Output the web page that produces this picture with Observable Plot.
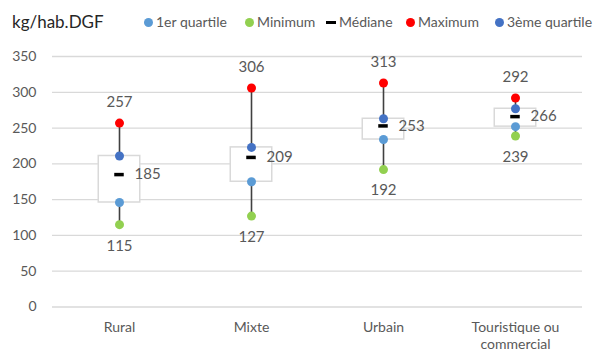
<!DOCTYPE html>
<html><head><meta charset="utf-8">
<script src="https://cdn.jsdelivr.net/npm/d3@7"></script>
<script src="https://cdn.jsdelivr.net/npm/@observablehq/plot@0.6"></script>
<style>
body{margin:0;background:#fff;font-family:Lato,"Open Sans",sans-serif;}
#wrap{position:relative;width:595px;height:352px;overflow:hidden;}
#legend{position:relative;height:40px;width:595px;}
#legend span{position:absolute;white-space:nowrap;font-size:14px;color:#595959;top:14px;line-height:16px;}
#legend .dot{width:9px;height:9px;border-radius:50%;top:18px;}
#legend .dash{width:10px;height:3px;background:#000;top:21px;}
#legend .title{font-size:17px;color:#262626;left:12px;top:12px;line-height:20px;}
</style></head>
<body><div id="wrap"><div id="legend"></div><div id="chart"></div></div>
<script>
const categories = ["Rural", "Mixte", "Urbain", "Touristique ou\ncommercial"];
const minimum = [115, 127, 192, 239];
const q1 = [146, 175, 234, 252];
const median = [185, 209, 253, 266];
const q3 = [211, 223, 263, 277];
const maximum = [257, 306, 313, 292];
const yTicks = [0, 50, 100, 150, 200, 250, 300, 350];
const unitLabel = "kg/hab.DGF";
const legendItems = [
  {label: "1er quartile", color: "#5B9BD5", type: "dot"},
  {label: "Minimum", color: "#92D050", type: "dot"},
  {label: "Médiane", color: "#000000", type: "dash"},
  {label: "Maximum", color: "#FF0000", type: "dot"},
  {label: "3ème quartile", color: "#4472C4", type: "dot"}
];

const rows = categories.map((c, i) => ({cat: c, min: minimum[i], q1: q1[i], med: median[i], q3: q3[i], max: maximum[i]}));

// legend
const lg = document.getElementById("legend");
const t = document.createElement("span"); t.className = "title"; t.textContent = unitLabel; lg.appendChild(t);
const markerX = [144, 245, 326, 406, 495];
legendItems.forEach((it, i) => {
  const m = document.createElement("span");
  m.className = it.type;
  m.style.left = markerX[i] + "px";
  if (it.type === "dot") m.style.background = it.color;
  lg.appendChild(m);
  const s = document.createElement("span");
  s.textContent = it.label;
  s.style.left = (markerX[i] + (it.type === "dot" ? 12 : 13)) + "px";
  lg.appendChild(s);
});

const W = 595, H = 312;
const band = (582 - 52) / categories.length;
const boxW = 42, dashW = 10;
const txt = {fill: "#595959", fontSize: 15};

const chart = Plot.plot({
  width: W, height: H,
  marginTop: 16, marginBottom: 45.5, marginLeft: 52, marginRight: 13,
  style: {fontFamily: "Lato, 'Open Sans', sans-serif", background: "#fff"},
  x: {domain: categories, padding: 0, axis: null},
  y: {domain: [0, 350], axis: null},
  marks: [
    Plot.gridY(yTicks, {stroke: "#d9d9d9", strokeOpacity: 1, strokeWidth: 1.3}),
    Plot.axisY(yTicks, {tickSize: 0, tickPadding: 16, fontSize: 14, fill: "#595959", label: null}),
    Plot.axisX({tickSize: 0, tickPadding: 14, fontSize: 14, fill: "#595959", label: null, lineHeight: 1.15}),
    Plot.ruleX(rows, {x: "cat", y1: "min", y2: "max", stroke: "#404040", strokeWidth: 1.6}),
    Plot.barY(rows, {x: "cat", y1: "q1", y2: "q3", fill: "#fff", stroke: "#d9d9d9", strokeWidth: 1.5,
      insetLeft: (band - boxW) / 2, insetRight: (band - boxW) / 2}),
    Plot.tickY(rows, {x: "cat", y: "med", stroke: "#000", strokeWidth: 3.5,
      insetLeft: (band - dashW) / 2, insetRight: (band - dashW) / 2}),
    Plot.dot(rows, {x: "cat", y: "min", r: 4.5, fill: "#92D050"}),
    Plot.dot(rows, {x: "cat", y: "q1", r: 4.5, fill: "#5B9BD5"}),
    Plot.dot(rows, {x: "cat", y: "q3", r: 4.5, fill: "#4472C4"}),
    Plot.dot(rows, {x: "cat", y: "max", r: 4.5, fill: "#FF0000"}),
    Plot.text(rows, {x: "cat", y: "max", text: "max", dy: -21, ...txt}),
    Plot.text(rows, {x: "cat", y: "min", text: "min", dy: 21, ...txt}),
    Plot.text(rows, {x: "cat", y: "med", text: "med", dx: 15, textAnchor: "start", ...txt})
  ]
});
document.getElementById("chart").appendChild(chart);
</script></body></html>
